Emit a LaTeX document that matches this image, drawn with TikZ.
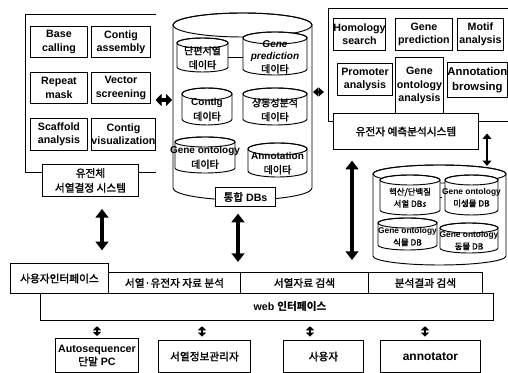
\documentclass[tikz,border=0pt]{standalone}
\usepackage{fontspec}
\setmainfont{Liberation Sans}
\newfontfamily\kr{Noto Sans CJK KR}[AutoFakeBold=1.6]
\usetikzlibrary{arrows.meta}
\tikzset{
  ln/.style={line width=0.7pt},
  txt/.style={font=\fontsize{8}{10}\selectfont\bfseries, align=center, inner sep=0pt},
  kt/.style={font=\fontsize{8}{11}\selectfont\kr\bfseries},
  box/.style={ln, draw, fill=white, txt},
  fat/.style={line width=3.6pt, {Triangle[width=9.5pt,length=6.5pt]}-{Triangle[width=9.5pt,length=6.5pt]}},
  shortfat/.style={line width=3.4pt, {Triangle[width=9pt,length=4.5pt]}-{Triangle[width=9pt,length=4.5pt]}},
  midarr/.style={line width=2.2pt, {Triangle[width=6.5pt,length=4pt]}-{Triangle[width=6.5pt,length=4pt]}},
  smallarr/.style={line width=2.2pt, {Triangle[width=6pt,length=3pt]}-{Triangle[width=6pt,length=3pt]}},
}
% box: [style] name x1 y1 x2 y2 text
\newcommand{\bx}[7][]{\node[box,#1,anchor=north west,minimum width={(#5-#3)*0.75pt},minimum height={(#6-#4)*0.75pt}] (#2) at (#3,#4) {#7};}
% cylinder: [text style] name x1 y1 x2 y2 ry text
\newcommand{\cyl}[8][]{%
  \pgfmathsetmacro\cylcx{(#3+#5)/2}%
  \pgfmathsetmacro\cylrx{(#5-#3)/2}%
  \pgfmathsetmacro\cylya{#4+#7}%
  \pgfmathsetmacro\cylyb{#6-#7}%
  \filldraw[ln,fill=white] (#3,\cylya) -- (#3,\cylyb) arc[start angle=180,end angle=0,x radius=\cylrx,y radius=#7] -- (#5,\cylya) arc[start angle=0,end angle=-180,x radius=\cylrx,y radius=#7] -- cycle;
  \draw[ln] (\cylcx,\cylya) ellipse[x radius=\cylrx,y radius=#7];
  \node[txt,#1,anchor=north,minimum width={(#5-#3)*0.75pt},minimum height={(#6-\cylya)*0.75pt}] (#2) at (\cylcx,\cylya) {#8};%
}
\begin{document}
\begin{tikzpicture}[x=0.75pt,y=-0.75pt]
\useasboundingbox[fill=white] (0,0) rectangle (508,373);

% ---------- left: sequencing system ----------
\node[inner sep=0,anchor=north west,minimum width={130*0.75pt},minimum height={158*0.75pt}] (seqframe) at (25,14) {};
\draw[ln] (seqframe.north east) -- (seqframe.north west) -- (seqframe.south west) -- (seqframe.south east);
\bx{bc}{30}{26}{87}{57}{Base\\calling}
\bx{ca}{91}{26}{150}{57}{Contig\\assembly}
\bx{rm}{30}{72}{87}{103}{Repeat\\mask}
\bx{vs}{91}{72}{150}{103}{Vector\\screening}
\bx{sa}{30}{118}{87}{150}{Scaffold\\analysis}
\bx{cv}{91}{118}{150}{150}{Contig\\visualization}
\bx[kt]{seqlabel}{42}{164}{138}{196}{유전체\\서열결정 시스템}

% ---------- middle: integrated DBs ----------
\cyl{maindb}{173}{13}{312}{200}{12}{}
\cyl[font=\fontsize{7.5}{10.5}\selectfont\kr\bfseries]{dp}{177}{38}{228}{72}{5}{단편서열\\데이타}
\cyl[font=\fontsize{7.5}{9.5}\selectfont]{gp}{243}{32}{307}{75}{6}{\itshape\bfseries Gene\\\itshape\bfseries prediction\\{\kr\bfseries 데이타}}
\draw[ln] (dp.east) -- (dp.east -| gp.west);
\cyl[font=\fontsize{7.5}{10.5}\selectfont]{contig}{182}{88}{232}{125}{6}{\bfseries Contig\\{\kr\bfseries 데이타}}
\cyl[font=\fontsize{7.5}{10.5}\selectfont\kr\bfseries]{homol}{243}{88}{307}{125}{6}{상동성분석\\데이타}
\cyl[font=\fontsize{7.5}{10.5}\selectfont]{go}{175}{137}{235}{173}{5}{\bfseries Gene ontology\\{\kr\bfseries 데이타}}
\cyl[font=\fontsize{7.5}{10.5}\selectfont]{ann}{248}{143}{307}{177}{6}{\bfseries Annotation\\{\kr\bfseries 데이타}}
\bx{dbs}{215}{187}{275}{206}{{\kr\bfseries 통합} DBs}

% ---------- right: gene prediction system ----------
\node[inner sep=0,anchor=north west,minimum width={179*0.75pt},minimum height={113*0.75pt}] (predframe) at (328,8) {};
\draw[ln] (predframe.north east) -- (predframe.north west) -- (predframe.south west) -- (predframe.south east);
\bx{hs}{333}{18}{385}{50}{Homology\\search}
\bx{gpr}{395}{18}{452}{50}{Gene\\prediction}
\bx{ma}{457}{18}{503}{50}{Motif\\analysis}
\bx{pa}{337}{63}{392}{95}{Promoter\\analysis}
\bx{goa}{395}{57}{443}{113}{Gene\\ontology\\analysis}
\bx[font=\fontsize{8.5}{11}\selectfont\bfseries]{ab}{447}{62}{505}{97}{Annotation\\browsing}
\bx[kt]{predlabel}{333}{113}{478}{149}{유전자 예측분석시스템}

% ---------- right: reference DBs ----------
\cyl{rdb}{373}{165}{506}{265}{9}{}
\cyl[font=\fontsize{6.3}{9}\selectfont\kr\bfseries]{nadb}{380}{175}{440}{215}{5}{핵산/단백질\\서열 DBs}
\cyl[font=\fontsize{6.3}{9}\selectfont]{gomic}{445}{175}{498}{215}{5}{\bfseries Gene ontology\\{\kr\bfseries 미생물 DB}}
\draw[ln] (nadb.east) -- (nadb.east -| gomic.west);
\cyl[font=\fontsize{6.3}{9}\selectfont]{goplant}{378}{218}{437}{250}{5}{\bfseries Gene ontology\\{\kr\bfseries 식물 DB}}
\cyl[font=\fontsize{6.3}{9}\selectfont]{goanimal}{440}{223}{498}{253}{5}{\bfseries Gene ontology\\{\kr\bfseries 동물 DB}}

% ---------- bottom: web interface ----------
\bx{web}{40}{293}{493}{320}{}
\node[txt] (webtxt) at (290,307) {web {\kr\bfseries\itshape 인터페이스}};
\bx[kt]{ui}{10}{263}{108}{293}{사용자인터페이스}
\bx[kt]{r1}{108}{272}{240}{293}{서열·유전자 자료 분석}
\bx[kt]{r2}{240}{272}{368}{293}{서열자료 검색}
\bx[kt]{r3}{368}{272}{482}{293}{분석결과 검색}

\bx{auto}{55}{338}{138}{372}{Autosequencer\\{\kr\bfseries 단말} PC}
\bx[kt]{seqmgr}{158}{340}{250}{372}{서열정보관리자}
\bx[kt]{user}{283}{340}{363}{372}{사용자}
\bx[font=\fontsize{9}{10}\selectfont\bfseries]{annot}{380}{340}{480}{372}{annotator}

% ---------- arrows ----------
\draw[shortfat,shorten >=0.5pt] (seqframe.east |- 0,100) -- (maindb.west |- 0,100);
\draw[midarr,shorten >=3pt,shorten <=0.5pt] (maindb.east |- 0,92) -- (predframe.west |- 0,92);
\draw[midarr,shorten <=9pt,shorten >=6pt] (predframe.south -| 487,0) -- (rdb.north -| 487,0);
\draw[fat,shorten <=9pt,shorten >=9.5pt] (seqlabel.south -| 102,0) -- (ui.north -| 102,0);
\draw[fat,shorten <=5pt,shorten >=7.5pt] (dbs.south -| 238,0) -- (r1.north -| 238,0);
\draw[fat,shorten <=8pt,shorten >=9pt] (predlabel.south -| 352,0) -- (r2.north -| 352,0);
\draw[smallarr,shorten <=4pt,shorten >=1.5pt] (web.south -| 97,0) -- (auto.north -| 97,0);
\draw[smallarr,shorten <=4pt,shorten >=2.5pt] (web.south -| 202,0) -- (seqmgr.north -| 202,0);
\draw[smallarr,shorten <=4pt,shorten >=2.5pt] (web.south -| 310,0) -- (user.north -| 310,0);
\draw[smallarr,shorten <=4pt,shorten >=2.5pt] (web.south -| 425,0) -- (annot.north -| 425,0);
\end{tikzpicture}
\end{document}
